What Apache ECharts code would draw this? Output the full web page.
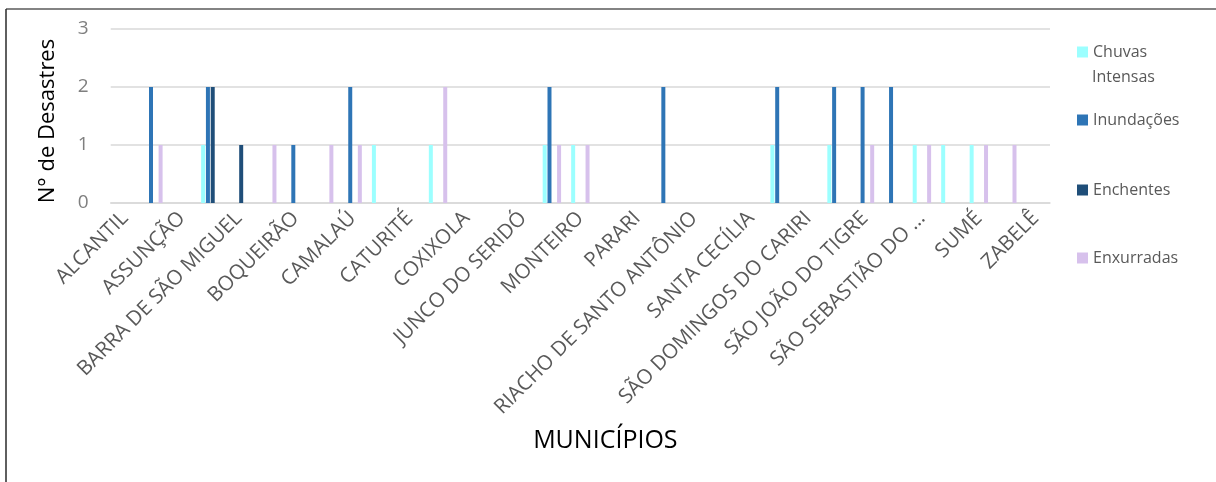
<!DOCTYPE html>
<html>
<head>
<meta charset="utf-8">
<script src="https://cdn.jsdelivr.net/npm/echarts@6/dist/echarts.min.js"></script>
<style>
  html, body { margin: 0; padding: 0; background: #fff; }
  #chart { width: 1216px; height: 482px; }
</style>
</head>
<body>
<div id="chart"></div>
<script>
// Municípios (eixo X) – um rótulo sim, outro não, é exibido
const municipios = [
  'ALCANTIL', 'AMPARO', 'ASSUNÇÃO', 'BARRA DE SANTANA', 'BARRA DE SÃO MIGUEL',
  'BOA VISTA', 'BOQUEIRÃO', 'CABACEIRAS', 'CAMALAÚ', 'CARAÚBAS', 'CATURITÉ',
  'CONGO', 'COXIXOLA', 'GURJÃO', 'JUNCO DO SERIDÓ', 'LIVRAMENTO', 'MONTEIRO',
  'OURO VELHO', 'PARARI', 'PRATA', 'RIACHO DE SANTO ANTÔNIO', 'SALGADINHO',
  'SANTA CECÍLIA', 'SANTO ANDRÉ', 'SÃO DOMINGOS DO CARIRI', 'SÃO JOÃO DO CARIRI',
  'SÃO JOÃO DO TIGRE', 'SÃO JOSÉ DOS CORDEIROS', 'SÃO SEBASTIÃO DO UMBUZEIRO',
  'SERRA BRANCA', 'SUMÉ', 'TAPEROÁ', 'ZABELÊ'
];

// Número de desastres por tipo
const chuvasIntensas = [0,0,0,1,0,0,0,0,0,1,0,1,0,0,0,1,1,0,0,0,0,0,0,1,0,1,0,0,1,1,1,0,0];
const inundacoes     = [0,2,0,2,0,0,1,0,2,0,0,0,0,0,0,2,0,0,0,2,0,0,0,2,0,2,2,2,0,0,0,0,0];
const enchentes      = [0,0,0,2,1,0,0,0,0,0,0,0,0,0,0,0,0,0,0,0,0,0,0,0,0,0,0,0,0,0,0,0,0];
const enxurradas     = [0,1,0,0,0,1,0,1,1,0,0,2,0,0,0,1,1,0,0,0,0,0,0,0,0,0,1,0,1,0,1,1,0];

const yTicks = [0, 1, 2, 3];

const FONT = '"Open Sans", "Noto Sans", sans-serif';
const cores = {
  chuvas: '#9CFFFF',
  inund: '#2E75B6',
  ench: '#1F4E79',
  enx: '#D7C1EC'
};

const chart = echarts.init(document.getElementById('chart'), null, { renderer: 'canvas' });

function barSeries(name, data, color) {
  return {
    name: name,
    type: 'bar',
    data: data,
    barWidth: 4,
    barGap: '20%',
    itemStyle: { color: color },
    emphasis: { disabled: true }
  };
}

function legendAt(name, top, label) {
  return {
    data: [name],
    left: 1072,
    top: top,
    orient: 'vertical',
    itemWidth: 11,
    itemHeight: 11,
    icon: 'rect',
    selectedMode: false,
    formatter: function () { return label; },
    textStyle: { fontFamily: FONT, fontSize: 16, color: '#595959' }
  };
}

chart.setOption({
  animation: false,
  backgroundColor: '#ffffff',
  textStyle: { fontFamily: FONT },
  grid: { left: 110.7, right: 166, top: 29, bottom: 279, containLabel: false },
  legend: [
    legendAt('Chuvas Intensas', 39, 'Chuvas'),
    legendAt('Inundações', 107, 'Inundações'),
    legendAt('Enchentes', 177, 'Enchentes'),
    legendAt('Enxurradas', 245, 'Enxurradas')
  ],
  graphic: [
    { type: 'text', left: 1092, top: 69,
      style: { text: 'Intensas', font: '16px ' + FONT, fill: '#595959' } },
    { type: 'line', shape: { x1: 6, y1: 9, x2: 1216, y2: 9 },
      style: { stroke: '#5a5a5a', lineWidth: 1.5 } },
    { type: 'line', shape: { x1: 6, y1: 9, x2: 6, y2: 482 },
      style: { stroke: '#2a2a2a', lineWidth: 1.5 } }
  ],
  xAxis: {
    type: 'category',
    data: municipios,
    name: 'MUNICÍPIOS',
    nameLocation: 'middle',
    nameGap: 225,
    nameTextStyle: { fontFamily: FONT, fontSize: 25, color: '#000', padding: [0, 0, 0, 50] },
    axisLine: { lineStyle: { color: '#D9D9D9', width: 1.5 } },
    axisTick: { show: false },
    axisLabel: {
      interval: 1,
      rotate: 45,
      margin: 12,
      fontFamily: FONT,
      fontSize: 20.5,
      color: '#595959',
      formatter: function (v) {
        return v.length > 24 ? v.slice(0, 17) + '…' : v;
      }
    }
  },
  yAxis: {
    type: 'value',
    min: yTicks[0],
    max: yTicks[yTicks.length - 1],
    interval: 1,
    name: 'N° de Desastres',
    nameLocation: 'middle',
    nameGap: 52,
    nameTextStyle: { fontFamily: FONT, fontSize: 22, color: '#000', padding: [0, 10, 0, 0] },
    axisLine: { show: false },
    axisTick: { show: false },
    axisLabel: { fontFamily: FONT, fontSize: 19, color: '#7F7F7F', margin: 22 },
    splitLine: { lineStyle: { color: '#D9D9D9', width: 1.5 } }
  },
  series: [
    barSeries('Chuvas Intensas', chuvasIntensas, cores.chuvas),
    barSeries('Inundações', inundacoes, cores.inund),
    barSeries('Enchentes', enchentes, cores.ench),
    barSeries('Enxurradas', enxurradas, cores.enx)
  ]
});
</script>
</body>
</html>
